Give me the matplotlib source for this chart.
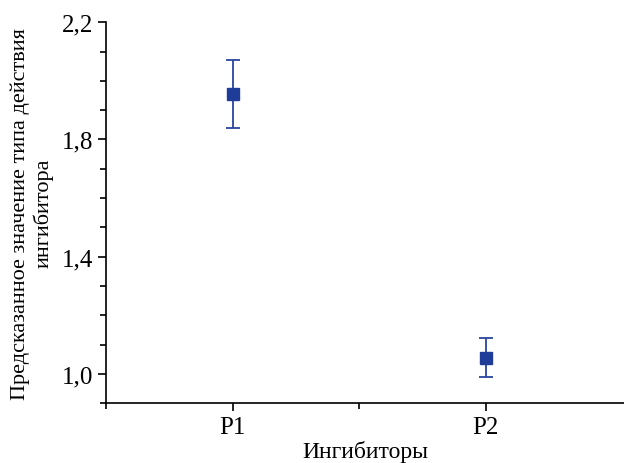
import matplotlib.pyplot as plt
from matplotlib.ticker import MultipleLocator, FixedLocator

plt.rcParams['font.family'] = ['Liberation Serif', 'DejaVu Serif']

inhibitors = ['P1', 'P2']
positions = [1, 2]
predicted = [1.955, 1.055]
errors = [0.115, 0.067]

fig = plt.figure(figsize=(6.24, 4.64), dpi=100)
ax = fig.add_axes([0.170, 0.129, 0.830, 0.821])

ax.errorbar(positions, predicted, yerr=errors, fmt='s', color='#1f3c98',
            ecolor='#2a45a0', markersize=8, capsize=5, elinewidth=1.3, capthick=1.3)

ax.set_xlim(0.5, 2.547)
ax.set_ylim(0.9, 2.2)
ax.set_xticks(positions)
ax.set_xticklabels(inhibitors)
ax.xaxis.set_minor_locator(FixedLocator([0.5, 1.5]))
ax.yaxis.set_minor_locator(MultipleLocator(0.1))
ax.set_yticks([1.0, 1.4, 1.8, 2.2])
ax.set_yticklabels(['1,0', '1,4', '1,8', '2,2'])

for s in ['top', 'right']:
    ax.spines[s].set_visible(False)
for s in ['left', 'bottom']:
    ax.spines[s].set_linewidth(1.2)

ax.tick_params(axis='both', which='major', length=6, width=1.2, labelsize=18, direction='out')
ax.tick_params(axis='both', which='minor', length=4, width=1.2, direction='out')

ax.set_xlabel('Ингибиторы', fontsize=17, labelpad=1)
ax.set_ylabel('Предсказанное значение типа действия\nингибитора', fontsize=16, labelpad=6)

fig.savefig('out.png', dpi=100)
